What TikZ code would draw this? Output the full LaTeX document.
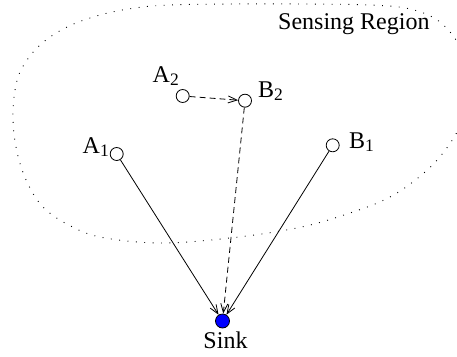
\documentclass[tikz,border=0pt]{standalone}
\usepackage{fontspec}
\setmainfont{Liberation Serif}
\usetikzlibrary{arrows.meta}
\newcommand\lblsub[1]{\raisebox{-0.35ex}{\fontsize{17.5}{17.5}\selectfont #1}}
\begin{document}
\begin{tikzpicture}[x=1pt,y=-1pt,
  sensor/.style={circle,draw,line width=0.8pt,minimum size=13pt,inner sep=0pt,fill=white},
  sinknode/.style={circle,draw,line width=0.8pt,minimum size=14pt,inner sep=0pt,fill=blue},
  lbl/.style={font=\fontsize{24}{24}\selectfont,inner sep=0pt},
  link/.style={line width=0.8pt,-{Straight Barb[length=9pt,width=7pt]}},
  dlink/.style={link,dash pattern=on 6pt off 4pt},
  region/.style={line width=0.9pt,dash pattern=on 0.9pt off 7.5pt}]
\useasboundingbox (0,0) rectangle (457,356);
\draw[region] plot[smooth cycle,tension=0.6] coordinates {
 (13,120) (15,90) (22,68) (40,45) (67,27) (100,15) (135,8) (170,5) (230,4)
 (300,4) (370,5) (410,9) (440,22) (462,50) (472,85) (465,115) (449,145)
 (425,172) (390,197) (347,214) (297,228) (230,238) (160,243) (100,237)
 (67,224) (43,207) (27,182) (17,152)};
\node[sensor] (A1) at (116.7,154) {};
\node[sensor] (A2) at (182.7,96) {};
\node[sensor] (B2) at (245,100.7) {};
\node[sensor] (B1) at (332.7,145.3) {};
\node[sinknode] (S) at (222.5,321) {};
\node[lbl,anchor=base east] (lA1) at (109,153) {A\lblsub{1}};
\node[lbl,anchor=base east] (lA2) at (179,82) {A\lblsub{2}};
\node[lbl,anchor=base west] (lB2) at (258,97) {B\lblsub{2}};
\node[lbl,anchor=base west] (lB1) at (349,148) {B\lblsub{1}};
\node[lbl,anchor=base] (lS) at (225.5,348) {Sink};
\node[lbl,anchor=base west] (lR) at (278,29) {Sensing Region};
\draw[link] (A1) -- (S);
\draw[link] (B1) -- (S);
\draw[dlink] (B2) -- (S);
\draw[dlink] (A2) -- (B2);
\end{tikzpicture}
\end{document}
